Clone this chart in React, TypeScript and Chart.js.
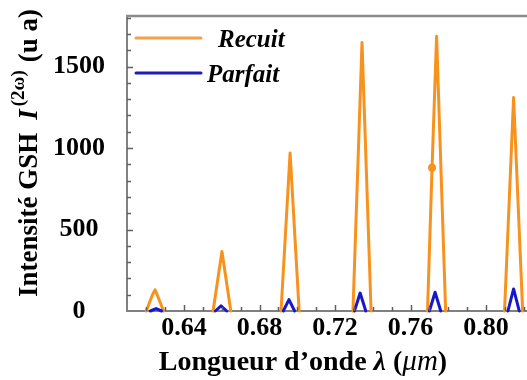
import React, { useEffect, useRef } from 'react';
import { Chart, registerables } from 'chart.js';

Chart.register(...registerables);

// ---- data ----
const seriesNames = ['Recuit', 'Parfait'];

const recuitLambda = [
  0.6200, 0.6233, 0.6247, 0.6292, null,
  0.6554, 0.6601, 0.6648, null,
  0.6914, 0.6962, 0.7010, null,
  0.7295, 0.7343, 0.7391, null,
  0.7690, 0.7714, 0.7738, 0.7786, null,
  0.8098, 0.8146, 0.8194,
];
const recuitIntensity = [
  0, 100, 130, 0, null,
  0, 365, 0, null,
  0, 970, 0, null,
  0, 1648, 0, null,
  0, 879, 1685, 0, null,
  0, 1310, 0,
];
// index of the single marked point on the 5th peak
const recuitMarkerIndex = 18;

const parfaitLambda = [
  0.6222, 0.6252, 0.6282, null,
  0.6566, 0.6596, 0.6626, null,
  0.6926, 0.6956, 0.6986, null,
  0.7303, 0.7333, 0.7363, null,
  0.7700, 0.7730, 0.7760, null,
  0.8116, 0.8146, 0.8176,
];
const parfaitIntensity = [
  0, 15, 0, null,
  0, 32, 0, null,
  0, 70, 0, null,
  0, 110, 0, null,
  0, 115, 0, null,
  0, 135, 0,
];

const xTickValues = [0.64, 0.68, 0.72, 0.76, 0.8];
const xTickLabels = ['0.64', '0.68', '0.72', '0.76', '0.80'];
const yTickValues = [0, 500, 1000, 1500];
const yTickLabels = ['0', '500', '1000', '1500'];
const xMin = 0.6098;
const xMax = 0.8217;
const yMin = 0;
const yMax = 1810;

const SERIF = "'Liberation Serif', 'Times New Roman', serif";
const ORANGE = '#F7921E';
const BLUE = '#1818C8';
const AXIS = '#808080';

const toPoints = (xs: (number | null)[], ys: (number | null)[]) =>
  xs.map((x, i) => ({ x: x === null ? NaN : x, y: ys[i] === null ? null : ys[i] }));

const decorPlugin = {
  id: 'decor',
  afterDraw(chart: any) {
    const { ctx, chartArea, scales } = chart;
    const xs = scales.x;
    const ys = scales.y;
    ctx.save();
    // top frame line
    ctx.strokeStyle = '#8c8c8c';
    ctx.lineWidth = 2.5;
    ctx.beginPath();
    ctx.moveTo(chartArea.left - 1, chartArea.top);
    ctx.lineTo(chartArea.right, chartArea.top);
    ctx.stroke();

    // inward tick marks
    ctx.strokeStyle = '#606060';
    ctx.lineWidth = 1.5;
    for (let k = 62; k <= 82; k++) {
      const px = Math.round(xs.getPixelForValue(k / 100)) + 0.5;
      const len = k % 4 === 0 ? 6 : 4;
      ctx.beginPath();
      ctx.moveTo(px, chartArea.bottom);
      ctx.lineTo(px, chartArea.bottom - len);
      ctx.stroke();
    }
    for (let k = 1; k <= 18; k++) {
      const py = Math.round(ys.getPixelForValue(k * 100)) + 0.5;
      const len = k % 5 === 0 ? 6 : 4;
      ctx.beginPath();
      ctx.moveTo(chartArea.left, py);
      ctx.lineTo(chartArea.left + len, py);
      ctx.stroke();
    }

    // legend
    ctx.lineCap = 'round';
    ctx.lineWidth = 3;
    ctx.strokeStyle = '#F2A04A';
    ctx.beginPath();
    ctx.moveTo(136, 38);
    ctx.lineTo(201, 38);
    ctx.stroke();
    ctx.strokeStyle = '#1E1EB4';
    ctx.beginPath();
    ctx.moveTo(136, 73);
    ctx.lineTo(201, 73);
    ctx.stroke();
    ctx.fillStyle = '#000';
    ctx.textBaseline = 'alphabetic';
    ctx.textAlign = 'left';
    ctx.font = `italic bold 25px ${SERIF}`;
    ctx.fillText(seriesNames[0], 218, 47);
    ctx.fillText(seriesNames[1], 207, 82);

    // x axis title
    const pieces: [string, string][] = [
      ['Longueur d\u2019onde ', `bold 28px ${SERIF}`],
      ['\u03BB', `italic bold 28px ${SERIF}`],
      [' (', `bold 28px ${SERIF}`],
      ['\u03BCm', `italic 29px ${SERIF}`],
      [')', `bold 28px ${SERIF}`],
    ];
    let total = 0;
    for (const [t, f] of pieces) {
      ctx.font = f;
      total += ctx.measureText(t).width;
    }
    let cx = 303 - total / 2;
    for (const [t, f] of pieces) {
      ctx.font = f;
      ctx.fillText(t, cx, 370);
      cx += ctx.measureText(t).width;
    }

    // y axis title (rotated)
    ctx.translate(37, 297);
    ctx.rotate(-Math.PI / 2);
    let p = 0;
    ctx.font = `bold 27px ${SERIF}`;
    ctx.fillText('Intensit\u00E9 GSH', p, 0);
    p += ctx.measureText('Intensit\u00E9 GSH').width + 13;
    ctx.font = `italic bold 27px ${SERIF}`;
    ctx.fillText('I', p, 0);
    p += ctx.measureText('I').width + 3;
    ctx.font = `bold 19px ${SERIF}`;
    ctx.fillText('(2\u03C9)', p, -13);
    p += ctx.measureText('(2\u03C9)').width + 8;
    ctx.font = `bold 27px ${SERIF}`;
    ctx.fillText('(u a)', p, 0);
    ctx.restore();
  },
};

export default function App() {
  const canvasRef = useRef<HTMLCanvasElement | null>(null);

  useEffect(() => {
    if (!canvasRef.current) return;
    const chart = new Chart(canvasRef.current, {
      type: 'line',
      data: {
        datasets: [
          {
            label: seriesNames[0],
            data: toPoints(recuitLambda, recuitIntensity) as any,
            borderColor: ORANGE,
            backgroundColor: ORANGE,
            borderWidth: 3,
            borderJoinStyle: 'round',
            borderCapStyle: 'round',
            pointRadius: recuitLambda.map((_, i) => (i === recuitMarkerIndex ? 4 : 0)),
            pointBorderWidth: 0,
            pointBackgroundColor: ORANGE,
            tension: 0,
            spanGaps: false,
            clip: false as any,
            order: 1,
          },
          {
            label: seriesNames[1],
            data: toPoints(parfaitLambda, parfaitIntensity) as any,
            borderColor: BLUE,
            backgroundColor: BLUE,
            borderWidth: 3,
            borderJoinStyle: 'round',
            borderCapStyle: 'round',
            pointRadius: 0,
            tension: 0,
            spanGaps: false,
            clip: false as any,
            order: 0,
          },
        ],
      },
      options: {
        animation: false,
        responsive: false,
        maintainAspectRatio: false,
        events: [],
        layout: { padding: { top: 16, left: 0, right: 0, bottom: 0 } },
        plugins: {
          legend: { display: false },
          tooltip: { enabled: false },
          title: { display: false },
        },
        scales: {
          x: {
            type: 'linear',
            min: xMin,
            max: xMax,
            afterBuildTicks: (scale: any) => {
              scale.ticks = xTickValues.map((v) => ({ value: v }));
            },
            afterFit: (scale: any) => {
              scale.height = 69;
              scale.paddingLeft = 0;
              scale.paddingRight = 0;
            },
            ticks: {
              autoSkip: false,
              maxRotation: 0,
              padding: 2,
              color: '#000',
              font: { family: SERIF, size: 26, weight: 'bold' },
              callback: (v: any) => {
                const i = xTickValues.findIndex((t) => Math.abs(t - Number(v)) < 1e-9);
                return i >= 0 ? xTickLabels[i] : '';
              },
            },
            grid: { display: true, drawOnChartArea: false, drawTicks: false },
            border: { display: true, color: AXIS, width: 2 },
          },
          y: {
            type: 'linear',
            min: yMin,
            max: yMax,
            afterBuildTicks: (scale: any) => {
              scale.ticks = yTickValues.map((v) => ({ value: v }));
            },
            afterFit: (scale: any) => {
              scale.width = 127;
              scale.paddingTop = 0;
              scale.paddingBottom = 0;
            },
            ticks: {
              autoSkip: false,
              padding: 22,
              crossAlign: 'center',
              color: '#000',
              font: { family: SERIF, size: 26, weight: 'bold' },
              callback: (v: any) => {
                const i = yTickValues.indexOf(Number(v));
                return i >= 0 ? yTickLabels[i] : '';
              },
            },
            grid: { display: true, drawOnChartArea: false, drawTicks: false },
            border: { display: true, color: AXIS, width: 2 },
          },
        },
      } as any,
      plugins: [decorPlugin],
    });
    return () => chart.destroy();
  }, []);

  return (
    <div style={{ position: 'fixed', left: 0, top: 0, width: 527, height: 380, background: '#fff' }}>
      <canvas ref={canvasRef} width={527} height={380} style={{ display: 'block', width: 527, height: 380 }} />
    </div>
  );
}
